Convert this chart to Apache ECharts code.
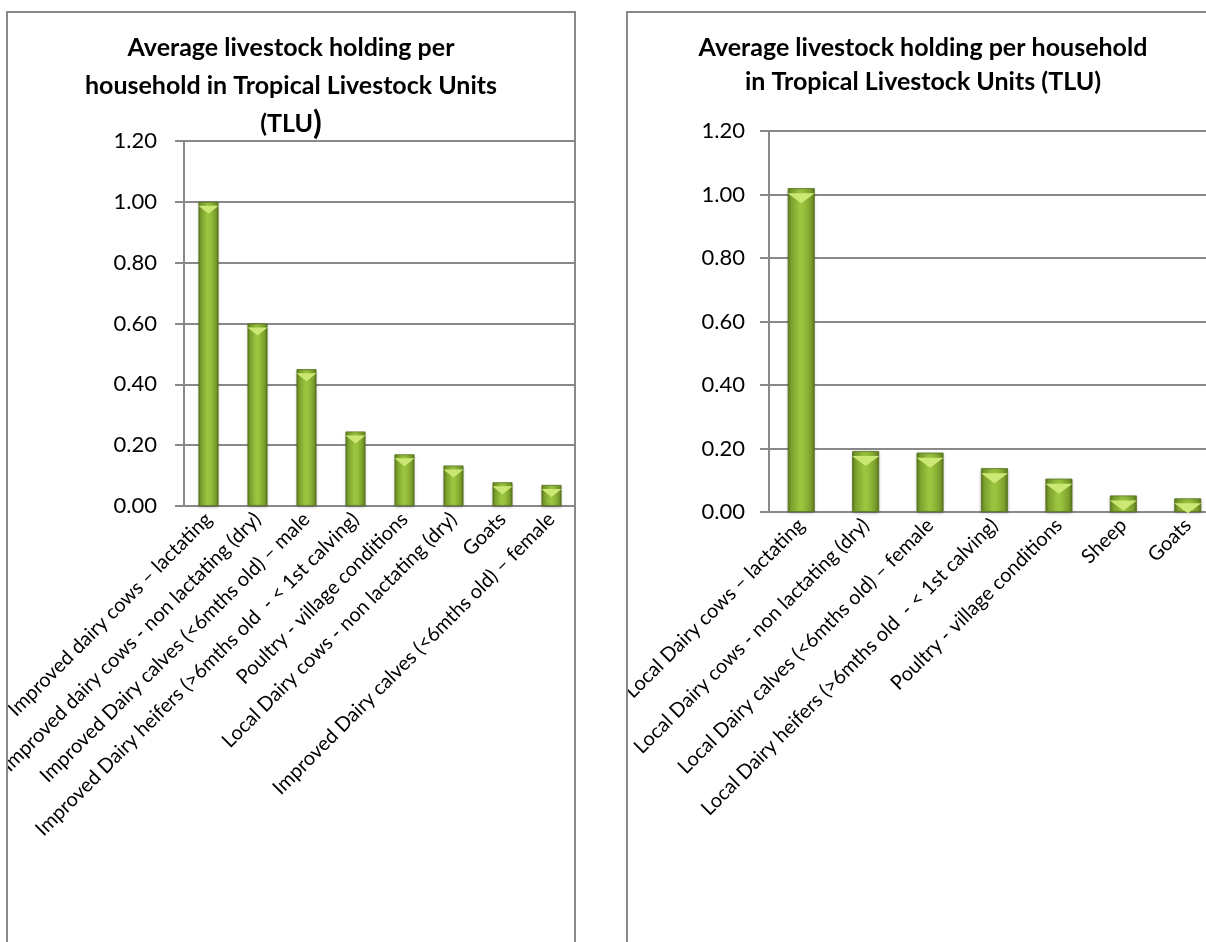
<!DOCTYPE html>
<html>
<head>
<meta charset="utf-8">
<script src="https://cdn.jsdelivr.net/npm/echarts@6/dist/echarts.min.js"></script>
<style>
  html, body { margin:0; padding:0; width:1206px; height:942px; overflow:hidden; background:#fff; }
  .box { position:absolute; border:2px solid #898989; border-bottom:none; overflow:hidden; background:#fff; }
  #left { left:6px; top:11px; width:566px; height:940px; }
  #right { left:626px; top:11px; width:590px; height:940px; }
</style>
</head>
<body>
<div id="left" class="box"></div>
<div id="right" class="box"></div>
<script>
const leftCategories = [
  'Improved dairy cows \u2013 lactating',
  'Improved dairy cows - non lactating (dry)',
  'Improved Dairy calves (<6mths old) \u2013 male',
  'Improved Dairy heifers (>6mths old  - < 1st calving)',
  'Poultry - village conditions',
  'Local Dairy cows - non lactating (dry)',
  'Goats',
  'Improved Dairy calves (<6mths old) \u2013 female'
];
const leftValues = [1.00, 0.60, 0.45, 0.245, 0.17, 0.133, 0.078, 0.069];

const rightCategories = [
  'Local Dairy cows \u2013 lactating',
  'Local Dairy cows - non lactating (dry)',
  'Local Dairy calves (<6mths old) \u2013 female',
  'Local Dairy heifers (>6mths old  - < 1st calving)',
  'Poultry - village conditions',
  'Sheep',
  'Goats'
];
const rightValues = [1.02, 0.192, 0.187, 0.138, 0.105, 0.052, 0.043];

const yMin = 0, yMax = 1.2, yStep = 0.2;

const FONT = 'Lato, "Open Sans", sans-serif';

function barGradient() {
  return new echarts.graphic.LinearGradient(0, 0, 1, 0, [
    { offset: 0, color: '#5b7a1e' },
    { offset: 0.12, color: '#7a9f2c' },
    { offset: 0.45, color: '#9cc640' },
    { offset: 0.6, color: '#97c03c' },
    { offset: 0.88, color: '#789c2b' },
    { offset: 1, color: '#56731c' }
  ]);
}

function makeOption(cfg) {
  return {
    animation: false,
    title: {
      text: cfg.title,
      left: 'center',
      top: cfg.titleTop,
      padding: 0,
      textStyle: {
        fontFamily: FONT, fontWeight: 'bold', fontSize: cfg.titleSize,
        color: '#000', lineHeight: cfg.titleLine,
        rich: {
          a: { fontFamily: FONT, fontWeight: 'bold', fontSize: cfg.titleSize, color: '#000' },
          b: { fontFamily: FONT, fontWeight: 'bold', fontSize: 32, color: '#000' }
        }
      }
    },
    grid: {
      left: cfg.gridLeft, top: cfg.gridTop, width: cfg.gridWidth, height: cfg.gridHeight,
      containLabel: false, outerBoundsMode: 'none'
    },
    xAxis: {
      type: 'category',
      data: cfg.categories,
      axisLine: { show: true, lineStyle: { color: '#898989', width: 2 } },
      axisTick: { show: false },
      axisLabel: {
        interval: 0, rotate: 45, margin: 10,
        fontFamily: FONT, fontSize: 20, color: '#000'
      }
    },
    yAxis: {
      type: 'value',
      min: yMin, max: yMax, interval: yStep,
      axisLine: { show: true, lineStyle: { color: '#898989', width: 2 } },
      axisTick: { show: true, length: 9, lineStyle: { color: '#898989', width: 2 } },
      axisLabel: {
        fontFamily: FONT, fontSize: 22, color: '#000', margin: cfg.yMargin,
        formatter: v => v.toFixed(2)
      },
      splitLine: { show: true, lineStyle: { color: '#898989', width: 2 } }
    },
    series: [
      {
        type: 'bar',
        data: cfg.values,
        barWidth: cfg.barWidth,
        barGap: '-100%',
        itemStyle: {
          color: barGradient(),
          borderColor: '#5a751f', borderWidth: 0.8,
          shadowColor: 'rgba(0,0,0,0.25)', shadowBlur: 3, shadowOffsetY: 1
        },
        z: 2
      },
      {
        type: 'pictorialBar',
        data: cfg.values,
        symbol: 'path://M0,0 L10,0 L5,4 Z',
        symbolPosition: 'end',
        symbolSize: [cfg.barPx, cfg.bevel],
        symbolOffset: [0, '50%'],
        barGap: '-100%',
        barWidth: cfg.barWidth,
        itemStyle: { color: '#cbe874' },
        z: 3,
        silent: true
      }
    ]
  };
}

const leftChart = echarts.init(document.getElementById('left'), null, { renderer: 'canvas' });
leftChart.setOption(makeOption({
  title: 'Average livestock holding per\nhousehold in Tropical Livestock Units\n{a|(TLU}{b|)}',
  titleTop: 16, titleSize: 25, titleLine: 38,
  categories: leftCategories, values: leftValues,
  gridLeft: 176, gridTop: 128, gridWidth: 392, gridHeight: 365,
  barWidth: 20, barPx: 20, bevel: 8, yMargin: 27
}));

const rightChart = echarts.init(document.getElementById('right'), null, { renderer: 'canvas' });
rightChart.setOption(makeOption({
  title: 'Average livestock holding per household\nin Tropical Livestock Units (TLU)',
  titleTop: 18, titleSize: 25, titleLine: 34,
  categories: rightCategories, values: rightValues,
  gridLeft: 141, gridTop: 118, gridWidth: 451, gridHeight: 381,
  barWidth: 27, barPx: 27, bevel: 10, yMargin: 24
}));
</script>
</body>
</html>
